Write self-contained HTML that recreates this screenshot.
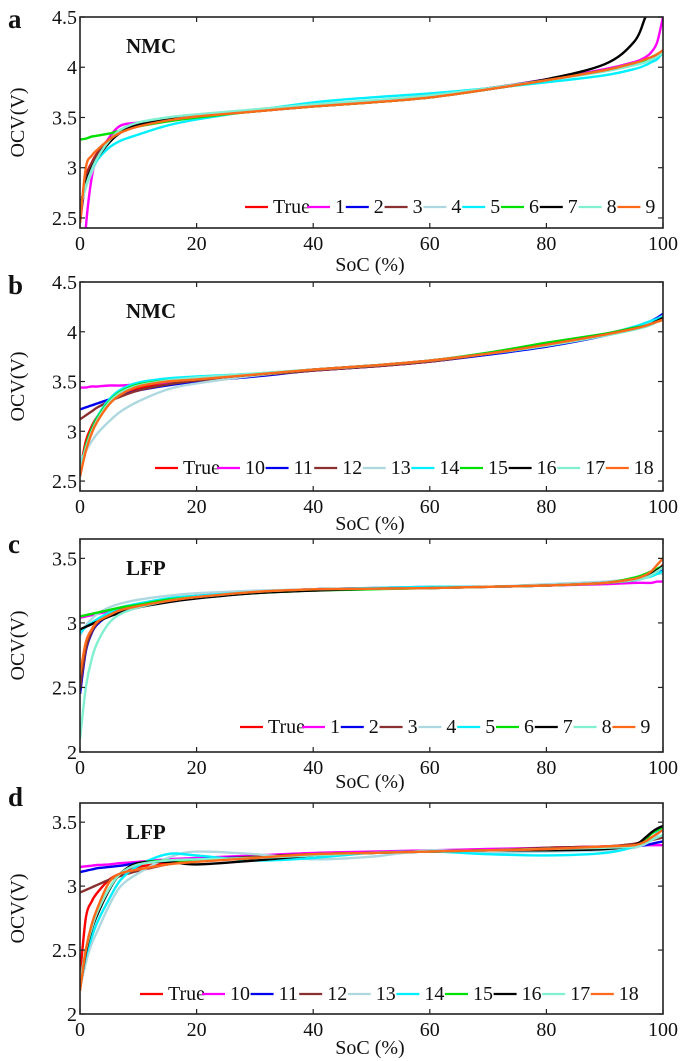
<!DOCTYPE html>
<html><head><meta charset="utf-8">
<style>
body{margin:0;background:#fff;width:685px;height:1061px;overflow:hidden;font-family:"Liberation Serif",serif;}
svg{display:block;font-family:"Liberation Serif",serif}
svg text{font-family:"Liberation Serif",serif !important;fill:#111}
</style></head><body>
<svg id="fig" width="685" height="1061" viewBox="0 0 685 1061" font-family="Liberation Serif, serif"></svg>
<script>
// ---------- data ----------
const socGrid = [0,1,2,3,5,7,10,15,20,30,40,50,60,70,80,90,95,97,98,99,100];
const xTicks = [0,20,40,60,80,100];
const nmcTicks = [2.5,3,3.5,4,4.5];
const lfpTicks = [2,2.5,3,3.5];
const colors = ["#ff0000","#ff00ff","#0000ee","#8b3030","#aed8e0","#00f0ff","#00e000","#000000","#80f0d0","#ff6a1a"];
const labelsA = ["True","1","2","3","4","5","6","7","8","9"];
const labelsB = ["True","10","11","12","13","14","15","16","17","18"];
// panel a (NMC)
const aTrue = [2.45,2.9,3.05,3.15,3.28,3.37,3.43,3.48,3.51,3.56,3.61,3.65,3.70,3.78,3.87,3.97,4.03,4.06,4.08,4.11,4.15];
const a1 = [1.5,2.4,2.9,3.1,3.3,3.42,3.45,3.49,3.52,3.57,3.62,3.66,3.72,3.79,3.88,3.98,4.05,4.1,4.15,4.25,4.5];
const a2 = [2.5,2.85,3.02,3.13,3.27,3.36,3.43,3.48,3.52,3.57,3.62,3.66,3.71,3.78,3.87,3.97,4.03,4.06,4.08,4.11,4.15];
const a3 = [2.5,2.88,3.04,3.14,3.28,3.37,3.43,3.48,3.51,3.56,3.61,3.65,3.70,3.78,3.87,3.97,4.03,4.06,4.08,4.12,4.16];
const a4 = [2.6,2.8,2.95,3.08,3.25,3.36,3.44,3.50,3.53,3.58,3.63,3.67,3.72,3.79,3.87,3.96,4.02,4.05,4.07,4.10,4.13];
const a5 = [2.6,2.85,2.98,3.08,3.2,3.27,3.33,3.42,3.48,3.57,3.65,3.70,3.74,3.79,3.85,3.92,3.98,4.02,4.05,4.08,4.15];
const a6 = [3.28,3.29,3.31,3.32,3.34,3.37,3.41,3.46,3.50,3.56,3.61,3.65,3.70,3.78,3.87,3.97,4.04,4.07,4.10,4.13,4.16];
const a7 = [2.6,2.85,3.0,3.1,3.25,3.35,3.43,3.48,3.52,3.57,3.62,3.66,3.71,3.79,3.88,4.03,4.25,4.5,4.6,4.7,4.8];
const a8 = [2.6,2.82,2.98,3.1,3.27,3.38,3.45,3.50,3.53,3.58,3.63,3.67,3.72,3.79,3.87,3.96,4.02,4.05,4.08,4.11,4.14];
const a9 = [2.45,3.0,3.12,3.18,3.28,3.35,3.41,3.47,3.51,3.56,3.61,3.65,3.70,3.78,3.87,3.97,4.04,4.08,4.10,4.13,4.17];
// panel b (NMC)
const bTrue = [2.6,2.9,3.05,3.15,3.28,3.37,3.43,3.48,3.51,3.56,3.61,3.65,3.70,3.78,3.87,3.97,4.03,4.06,4.08,4.11,4.14];
const b10 = [3.44,3.44,3.45,3.45,3.46,3.46,3.47,3.49,3.51,3.56,3.61,3.65,3.70,3.78,3.87,3.97,4.03,4.06,4.08,4.10,4.13];
const b11 = [3.22,3.24,3.26,3.28,3.32,3.36,3.41,3.46,3.50,3.55,3.61,3.65,3.70,3.77,3.85,3.96,4.04,4.08,4.11,4.14,4.18];
const b12 = [3.12,3.16,3.2,3.24,3.3,3.35,3.41,3.47,3.51,3.56,3.61,3.65,3.70,3.78,3.87,3.97,4.03,4.06,4.08,4.11,4.14];
const b13 = [2.7,2.8,2.9,2.98,3.1,3.2,3.3,3.42,3.48,3.56,3.62,3.66,3.71,3.79,3.88,3.98,4.05,4.08,4.10,4.13,4.16];
const b14 = [2.6,2.85,3.02,3.15,3.32,3.42,3.49,3.53,3.55,3.58,3.62,3.66,3.71,3.78,3.86,3.97,4.05,4.09,4.11,4.13,4.15];
const b15 = [2.55,2.85,3.02,3.14,3.3,3.4,3.47,3.51,3.53,3.57,3.62,3.66,3.71,3.79,3.89,3.98,4.04,4.06,4.08,4.10,4.12];
const b16 = [2.55,2.82,3.0,3.12,3.28,3.38,3.45,3.50,3.52,3.57,3.62,3.66,3.71,3.78,3.87,3.97,4.03,4.06,4.08,4.11,4.14];
const b17 = [2.6,2.83,3.0,3.12,3.29,3.39,3.46,3.51,3.54,3.58,3.62,3.66,3.71,3.78,3.86,3.96,4.02,4.05,4.07,4.10,4.12];
const b18 = [2.55,2.8,2.98,3.1,3.27,3.37,3.45,3.50,3.52,3.57,3.62,3.66,3.71,3.78,3.87,3.97,4.03,4.06,4.08,4.10,4.12];
// panel c (LFP)
const cTrue = [2.45,2.8,2.93,3.0,3.06,3.1,3.13,3.17,3.2,3.24,3.26,3.265,3.27,3.28,3.29,3.31,3.33,3.36,3.38,3.41,3.45];
const c1 = [3.04,3.05,3.06,3.07,3.09,3.11,3.14,3.18,3.21,3.24,3.26,3.27,3.28,3.28,3.29,3.3,3.31,3.31,3.31,3.32,3.32];
const c2 = [2.45,2.78,2.92,2.99,3.06,3.1,3.13,3.17,3.2,3.24,3.26,3.27,3.275,3.28,3.29,3.31,3.33,3.35,3.37,3.39,3.42];
const c3 = [2.5,2.8,2.93,3.0,3.06,3.1,3.13,3.17,3.2,3.24,3.26,3.265,3.27,3.28,3.29,3.31,3.33,3.36,3.38,3.41,3.44];
const c4 = [2.9,2.98,3.03,3.07,3.12,3.15,3.18,3.21,3.23,3.25,3.26,3.27,3.28,3.28,3.3,3.32,3.34,3.36,3.37,3.38,3.38];
const c5 = [2.92,2.97,3.0,3.03,3.08,3.12,3.15,3.19,3.21,3.24,3.26,3.27,3.28,3.28,3.29,3.31,3.33,3.35,3.36,3.38,3.4];
const c6 = [3.05,3.06,3.07,3.08,3.1,3.12,3.14,3.18,3.2,3.23,3.25,3.26,3.27,3.28,3.29,3.31,3.35,3.38,3.4,3.42,3.44];
const c7 = [2.95,2.97,2.99,3.01,3.05,3.08,3.12,3.16,3.19,3.23,3.25,3.265,3.27,3.28,3.29,3.31,3.33,3.36,3.38,3.41,3.44];
const c8 = [2.1,2.5,2.72,2.85,3.0,3.07,3.12,3.17,3.2,3.24,3.26,3.265,3.27,3.28,3.29,3.31,3.33,3.35,3.37,3.4,3.43];
const c9 = [2.6,2.85,2.95,3.01,3.06,3.1,3.13,3.17,3.2,3.24,3.26,3.265,3.27,3.28,3.29,3.31,3.34,3.37,3.4,3.45,3.5];
// panel d (LFP)
const dTrue = [2.3,2.75,2.88,2.95,3.05,3.1,3.15,3.18,3.2,3.23,3.25,3.26,3.27,3.28,3.3,3.31,3.33,3.36,3.38,3.41,3.45];
const d10 = [3.15,3.155,3.16,3.165,3.17,3.18,3.19,3.21,3.22,3.24,3.26,3.27,3.28,3.29,3.3,3.31,3.31,3.32,3.32,3.32,3.32];
const d11 = [3.11,3.12,3.13,3.14,3.15,3.16,3.18,3.2,3.21,3.23,3.25,3.26,3.27,3.28,3.29,3.3,3.31,3.32,3.33,3.34,3.35];
const d12 = [2.95,2.97,2.99,3.01,3.05,3.08,3.12,3.17,3.2,3.23,3.25,3.26,3.27,3.28,3.3,3.31,3.33,3.35,3.36,3.37,3.38];
const d13 = [2.2,2.4,2.55,2.65,2.85,3.0,3.1,3.22,3.27,3.25,3.21,3.23,3.28,3.26,3.27,3.28,3.3,3.33,3.36,3.4,3.45];
const d14 = [2.22,2.45,2.6,2.72,2.9,3.05,3.16,3.25,3.24,3.2,3.22,3.26,3.27,3.25,3.24,3.26,3.31,3.37,3.41,3.43,3.44];
const d15 = [2.2,2.5,2.68,2.8,2.98,3.1,3.18,3.2,3.2,3.22,3.25,3.26,3.27,3.28,3.29,3.3,3.32,3.37,3.41,3.44,3.46];
const d16 = [2.2,2.48,2.66,2.78,2.97,3.1,3.18,3.19,3.17,3.2,3.24,3.26,3.27,3.28,3.28,3.29,3.32,3.38,3.42,3.45,3.47];
const d17 = [2.25,2.5,2.67,2.8,2.98,3.1,3.17,3.2,3.21,3.22,3.24,3.26,3.27,3.28,3.29,3.3,3.31,3.34,3.36,3.38,3.4];
const d18 = [2.18,2.5,2.7,2.83,3.03,3.1,3.13,3.17,3.19,3.22,3.25,3.26,3.27,3.28,3.29,3.31,3.32,3.35,3.38,3.41,3.44];

const panels = [
 {id:"a",title:"NMC",top:17,bottom:228,ymin:2.4,ymax:4.5,ticks:nmcTicks,labels:labelsA,series:[aTrue,a1,a2,a3,a4,a5,a6,a7,a8,a9],legX:245,legY:213,xlab:271,letterY:28},
 {id:"b",title:"NMC",top:282,bottom:491,ymin:2.4,ymax:4.5,ticks:nmcTicks,labels:labelsB,series:[bTrue,b10,b11,b12,b13,b14,b15,b16,b17,b18],legX:155,legY:474,xlab:530,letterY:294},
 {id:"c",title:"LFP",top:539,bottom:752,ymin:2,ymax:3.65,ticks:lfpTicks,labels:labelsA,series:[cTrue,c1,c2,c3,c4,c5,c6,c7,c8,c9],legX:240,legY:733,xlab:788,letterY:553},
 {id:"d",title:"LFP",top:803,bottom:1014,ymin:2,ymax:3.65,ticks:lfpTicks,labels:labelsB,series:[dTrue,d10,d11,d12,d13,d14,d15,d16,d17,d18],legX:140,legY:1000,xlab:1054,letterY:806}
];

// ---------- drawing ----------
const NS="http://www.w3.org/2000/svg";
const svg=document.getElementById('fig');
const L=80,R=663;
function mk(tag,attrs,parent){const e=document.createElementNS(NS,tag);for(const k in attrs)e.setAttribute(k,attrs[k]);(parent||svg).appendChild(e);return e;}
function txt(parent,x,y,s,size,anchor,weight){const t=mk('text',{x:x,y:y,'font-size':size,'font-family':'Liberation Serif, serif','text-anchor':anchor||'start','font-weight':weight||'normal'},parent);t.textContent=s;return t;}
function smooth(P){
  let d='M'+P[0][0].toFixed(1)+','+P[0][1].toFixed(1);
  for(let i=0;i<P.length-1;i++){
    const p0=P[Math.max(0,i-1)],p1=P[i],p2=P[i+1],p3=P[Math.min(P.length-1,i+2)];
    const c1=[p1[0]+(p2[0]-p0[0])/6,p1[1]+(p2[1]-p0[1])/6];
    const c2=[p2[0]-(p3[0]-p1[0])/6,p2[1]-(p3[1]-p1[1])/6];
    d+=' C'+c1[0].toFixed(1)+','+c1[1].toFixed(1)+' '+c2[0].toFixed(1)+','+c2[1].toFixed(1)+' '+p2[0].toFixed(1)+','+p2[1].toFixed(1);
  }
  return d;
}

panels.forEach((p,pi)=>{
  const g=mk('g',{});
  
  
  const xs=v=>L+(v/100)*(R-L);
  const ys=v=>p.bottom-(v-p.ymin)/(p.ymax-p.ymin)*(p.bottom-p.top);
  const cid='clip'+p.id;
  const cp=mk('clipPath',{id:cid},g);mk('rect',{x:L,y:p.top,width:R-L,height:p.bottom-p.top},cp);
  const sg=mk('g',{'clip-path':'url(#'+cid+')'},g);
  
  
  p.series.forEach((arr,si)=>{
    const P=arr.map((v,i)=>[xs(socGrid[i]),ys(v)]);
    const pl=mk('path',{d:smooth(P),fill:'none',stroke:colors[si],'stroke-width':2.4,'stroke-linejoin':'round'},sg);
    
    
  });
  const fr=mk('rect',{x:L,y:p.top,width:R-L,height:p.bottom-p.top,fill:'none',stroke:'#222','stroke-width':1.6},g);
  
  
  xTicks.forEach(v=>{
    const x=xs(v);
    mk('line',{x1:x,x2:x,y1:p.bottom,y2:p.bottom-5,stroke:'#222','stroke-width':1.2},g);
    mk('line',{x1:x,x2:x,y1:p.top,y2:p.top+5,stroke:'#222','stroke-width':1.2},g);
    const t=txt(g,x,p.bottom+22,String(v),20,'middle');
    
    
  });
  p.ticks.forEach(v=>{
    const y=ys(v);
    mk('line',{x1:L,x2:L+5,y1:y,y2:y,stroke:'#222','stroke-width':1.2},g);
    mk('line',{x1:R,x2:R-5,y1:y,y2:y,stroke:'#222','stroke-width':1.2},g);
    const t=txt(g,L-3,y+7,String(v),20,'end');
    
    
  });
  const xl=txt(g,370,p.xlab,'SoC (%)',20,'middle');
  
  
  const cy=(p.top+p.bottom)/2;
  const yl=txt(g,0,0,'OCV(V)',20,'middle');
  yl.setAttribute('transform','translate(24,'+cy+') rotate(-90)');
  
  
  const lt=txt(g,8,p.letterY,p.id,27,'start','bold');
  
  
  const tt=txt(g,126,p.top+36,p.title,21,'start','bold');
  
  
  const lg=mk('g',{},g);
  
  
  let x=p.legX;
  p.labels.forEach((lab,si)=>{
    const eg=mk('g',{},lg);
    
    
    mk('line',{x1:x,x2:x+23,y1:p.legY-6,y2:p.legY-6,stroke:colors[si],'stroke-width':2.2},eg);
    txt(eg,x+28,p.legY,lab,20,'start');
    const w=lab==='True'?36:lab.length*9.8;
    x+=28+w+(lab==='True'?-2:1);
  });
});
</script>
</body></html>
